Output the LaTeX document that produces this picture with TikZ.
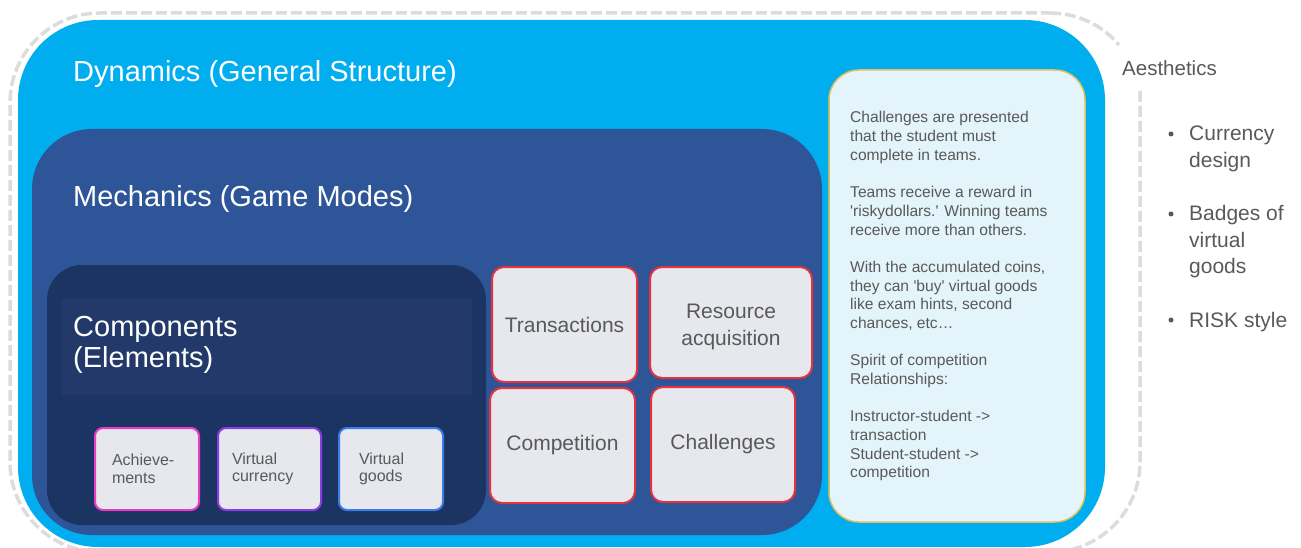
\documentclass[tikz,border=0pt]{standalone}
\usepackage{fontspec}
\setmainfont{Liberation Sans}

\definecolor{dynblue}{HTML}{00AEEF}
\definecolor{mechblue}{HTML}{2D5597}
\definecolor{compnavy}{HTML}{1C3461}
\definecolor{bandnavy}{HTML}{22396A}
\definecolor{boxgray}{HTML}{E6E8EE}
\definecolor{redline}{HTML}{E5323E}
\definecolor{pinkline}{HTML}{E83CC4}
\definecolor{purpleline}{HTML}{8A3DE6}
\definecolor{blueline}{HTML}{3C7CE6}
\definecolor{notefill}{HTML}{E3F4FB}
\definecolor{notegold}{HTML}{E0C25C}
\definecolor{textgray}{HTML}{595959}
\definecolor{dashgray}{HTML}{DCDCDC}

\tikzset{
  outline/.style={draw=dashgray, line width=3.5pt, dash pattern=on 11pt off 4pt},
  title/.style={anchor=base west, inner sep=0pt, text=white, font=\fontsize{29}{31}\selectfont},
  mechbox/.style={draw=redline, line width=2pt, fill=boxgray, rounded corners=12pt,
    text=textgray, font=\fontsize{21}{27}\selectfont, align=center, inner sep=0pt},
  compbox/.style={line width=2pt, fill=boxgray, rounded corners=8pt, minimum height=82pt,
    text=textgray, font=\fontsize{16}{17.5}\selectfont, align=flush left, inner ysep=0pt},
  plain/.style={anchor=base west, inner sep=0pt, text=textgray},
}

\begin{document}
\begin{tikzpicture}[x=1pt, y=-1pt]
\useasboundingbox (0,0) rectangle (1301,548);

% dashed frame around everything, open at the top right for the label
\draw[outline] (1140,91) [rounded corners=90pt] -- (1140,552) -- (10,552) -- (10,13) -- (1050,13);
\draw[outline] (1050,13) .. controls (1076.6,13) and (1102,24.6) .. (1119,45);

% nested layers
\fill[dynblue, rounded corners=80pt] (18,20) rectangle (1105,547);
\fill[mechblue, rounded corners=60pt] (32,129) rectangle (822,535);
\fill[compnavy, rounded corners=35pt] (47,265) rectangle (486,525);
\fill[bandnavy] (62,299) rectangle (472,395);

% layer titles
\node[title] (dyn) at (73,82) {Dynamics (General Structure)};
\node[title] (mech) at (73,207) {Mechanics (Game Modes)};
\node[title] (comp) at (73,336) {\parbox[t]{300pt}{\fontsize{29}{31}\selectfont Components\\(Elements)}};

% components
\node[compbox, draw=pinkline, minimum width=104pt, text width=70pt, inner xsep=17pt] (ach) at (147,469) {Achieve-\\ments};
\node[compbox, draw=purpleline, minimum width=103pt, text width=75pt, inner xsep=14pt] (cur) at (269.5,469) {Virtual\\currency};
\node[compbox, draw=blueline, minimum width=104pt, text width=64pt, inner xsep=20pt] (goods) at (391,469) {Virtual\\goods};

% mechanics
\node[mechbox, minimum width=145pt, minimum height=115pt] (trans) at (564.5,324.5) {Transactions};
\node[mechbox, minimum width=162pt, minimum height=111pt] (res) at (731,322.5) {};
\node[mechbox, draw=none, fill=none] (restext) at ([yshift=-4pt]res.center) {Resource\\acquisition};
\node[mechbox, minimum width=145pt, minimum height=115pt] (compet) at (562.5,445.5) {Competition};
\node[mechbox, minimum width=144pt, minimum height=115pt] (chal) at (723,444.5) {Challenges};

% description panel
\fill[notefill, draw=notegold, line width=1.5pt, rounded corners=30pt] (829,70) rectangle (1085,522);
\node[plain] (notes) at (850,123) {\parbox[t]{230pt}{\raggedright\fontsize{15.6}{18.68}\selectfont
Challenges are presented\\
that the student must\\
complete in teams.\\[18.68pt]
Teams receive a reward in\\
\textquotesingle riskydollars.\textquotesingle{} Winning teams\\
receive more than others.\\[18.68pt]
With the accumulated coins,\\
they can \textquotesingle buy\textquotesingle{} virtual goods\\
like exam hints, second\\
chances, etc…\\[18.68pt]
Spirit of competition\\
Relationships:\\[18.68pt]
Instructor-student ->\\
transaction\\
Student-student ->\\
competition}};

% aesthetics
\node[plain, font=\fontsize{20.5}{24}\selectfont] (aes) at (1122,76) {Aesthetics};
\fill[textgray] (1171,134) circle (2.5pt);
\fill[textgray] (1171,214) circle (2.5pt);
\fill[textgray] (1171,320) circle (2.5pt);
\node[plain] (cd) at (1189,141) {\parbox[t]{110pt}{\raggedright\fontsize{21}{26.5}\selectfont Currency\\design}};
\node[plain] (bv) at (1189,221) {\parbox[t]{110pt}{\raggedright\fontsize{21}{26.5}\selectfont Badges of\\virtual\\goods}};
\node[plain] (rs) at (1189,327) {\parbox[t]{110pt}{\raggedright\fontsize{21}{26.5}\selectfont RISK style}};
\end{tikzpicture}
\end{document}
